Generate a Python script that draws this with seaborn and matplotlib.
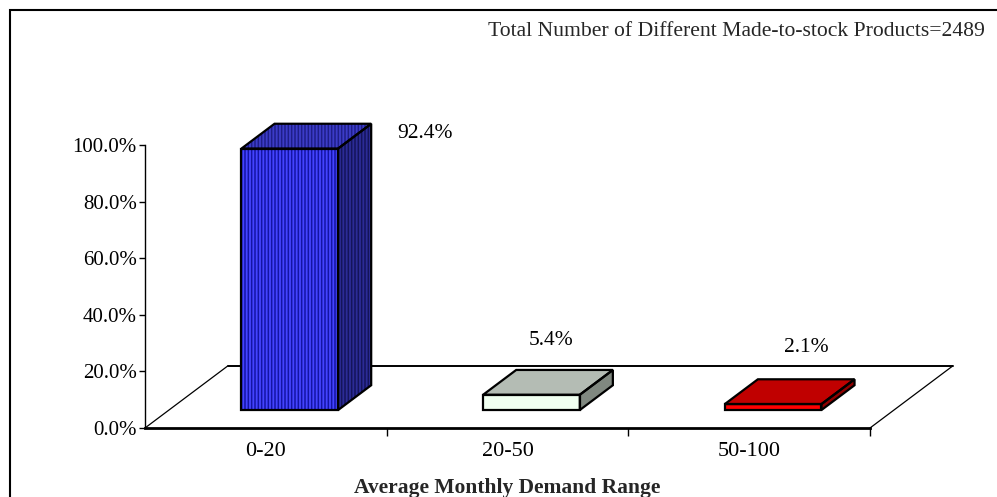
import matplotlib
matplotlib.use("Agg")
import matplotlib.pyplot as plt
from matplotlib.patches import Polygon, Rectangle
import numpy as np
import pandas as pd
import seaborn as sns

# Chart data
categories = ["0-20", "20-50", "50-100"]
shares = [92.4, 5.4, 2.1]
y_ticks = [0, 20, 40, 60, 80, 100]
y_tick_labels = ["0.0%", "20.0%", "40.0%", "60.0%", "80.0%", "100.0%"]
x_title = "Average Monthly Demand Range"
note = "Total Number of Different Made-to-stock Products=2489"

# Face colours for each bar: front, top, side
front_colors = ["#4444ff", "#f0fff0", "#ff0000"]
top_colors = ["#3c3cc8", "#b4bcb4", "#c00000"]
side_colors = ["#2c2c96", "#808880", "#900000"]
hatch_colors = [("#1414a4", "#1e1e88", "#14145a"), None, None]

# Pseudo-3D geometry (in data units)
DEPTH_X, DEPTH_Y = 0.342, 21.9      # full floor depth
BAR_FRONT, BAR_DEPTH = 0.29, 0.40   # bar position within the floor depth
label_offsets = [(0.66, 11.6), (0.18, 25.4), (0.235, 26.2)]

sns.set_theme(style="white")
plt.rcParams["font.family"] = ["Liberation Serif", "DejaVu Serif"]
plt.rcParams["hatch.linewidth"] = 1.1

fig = plt.figure(figsize=(9.97, 4.97), dpi=100)
fig.patch.set_facecolor("white")
ax = fig.add_axes([145 / 997, 1 - 428 / 497, 725 / 997, 283 / 497])
ax.set_facecolor("none")

df = pd.DataFrame({"range": categories, "share": shares})
sns.barplot(data=df, x="range", y="share", hue="range",
            palette=dict(zip(categories, front_colors)), width=0.4,
            legend=False, ax=ax, zorder=3)

ax.set_xlim(-0.5, 2.5)
ax.set_ylim(0, 100)

# Floor of the 3D plot
fx, fy = DEPTH_X, DEPTH_Y
ax.plot([-0.5 + fx, 2.5 + fx], [fy, fy], color="black", lw=1.4,
        clip_on=False, zorder=1)
ax.plot([-0.5, -0.5 + fx], [0, fy], color="black", lw=0.9,
        clip_on=False, zorder=1)
ax.plot([2.5, 2.5 + fx], [0, fy], color="black", lw=0.9,
        clip_on=False, zorder=1)


def face(points, fc, hatch_color=None):
    if hatch_color is not None:
        ax.add_patch(Polygon(points, closed=True, facecolor=fc,
                             edgecolor=hatch_color, hatch="|||||", lw=0,
                             clip_on=False, zorder=3))
    else:
        ax.add_patch(Polygon(points, closed=True, facecolor=fc, lw=0,
                             clip_on=False, zorder=3))
    ax.add_patch(Polygon(points, closed=True, fill=False, edgecolor="black",
                         lw=1.6, joinstyle="miter", clip_on=False, zorder=4))


bars = list(ax.patches)
for i, p in enumerate(bars):
    w, h = p.get_width(), p.get_height()
    x0 = p.get_x() + BAR_FRONT * fx
    y0 = BAR_FRONT * fy
    dx, dy = BAR_DEPTH * fx, BAR_DEPTH * fy
    p.set_visible(False)
    hc = hatch_colors[i]
    front = [(x0, y0), (x0 + w, y0), (x0 + w, y0 + h), (x0, y0 + h)]
    top = [(x0, y0 + h), (x0 + w, y0 + h), (x0 + w + dx, y0 + h + dy),
           (x0 + dx, y0 + h + dy)]
    side = [(x0 + w, y0), (x0 + w + dx, y0 + dy), (x0 + w + dx, y0 + h + dy),
            (x0 + w, y0 + h)]
    face(front, front_colors[i], hc[0] if hc else None)
    face(side, side_colors[i], hc[2] if hc else None)
    face(top, top_colors[i], hc[1] if hc else None)

    ox, oy = label_offsets[i]
    ax.text(i + ox, shares[i] + oy, f"{shares[i]:.1f}%", ha="center",
            va="center", fontsize=15.5, color="black")

# Axes styling
for s in ["top", "right"]:
    ax.spines[s].set_visible(False)
ax.spines["left"].set_color("black")
ax.spines["left"].set_linewidth(1.0)
ax.spines["bottom"].set_color("black")
ax.spines["bottom"].set_linewidth(2.0)

ax.set_yticks(y_ticks)
ax.set_yticklabels(y_tick_labels)
ax.tick_params(axis="y", which="major", left=True, length=4, width=1,
               color="black", direction="out", pad=2, labelsize=15,
               labelcolor="black")
ax.set_xticks(range(len(categories)))
ax.set_xticklabels(categories)
ax.set_xticks([0.5, 1.5, 2.5], minor=True)
ax.tick_params(axis="x", which="major", length=0, pad=10, labelsize=16,
               labelcolor="black")
ax.tick_params(axis="x", which="minor", bottom=True, length=6, width=1,
               color="black", direction="out")
ax.set_xlabel("")
ax.set_ylabel("")

fig.text(507 / 997, 1 - 492.5 / 497, x_title, ha="center", va="baseline",
         fontsize=15.5, fontweight="bold")
fig.text(985 / 997, 1 - 31 / 497, note, ha="right", va="center",
         fontsize=15.6)

# Outer chart frame
fig.add_artist(Rectangle((10 / 997, -0.2), 1.2, 1.2 - 9.5 / 497,
                         transform=fig.transFigure, fill=False,
                         edgecolor="black", lw=1.5))

fig.savefig("out.png", dpi=100, facecolor="white")
